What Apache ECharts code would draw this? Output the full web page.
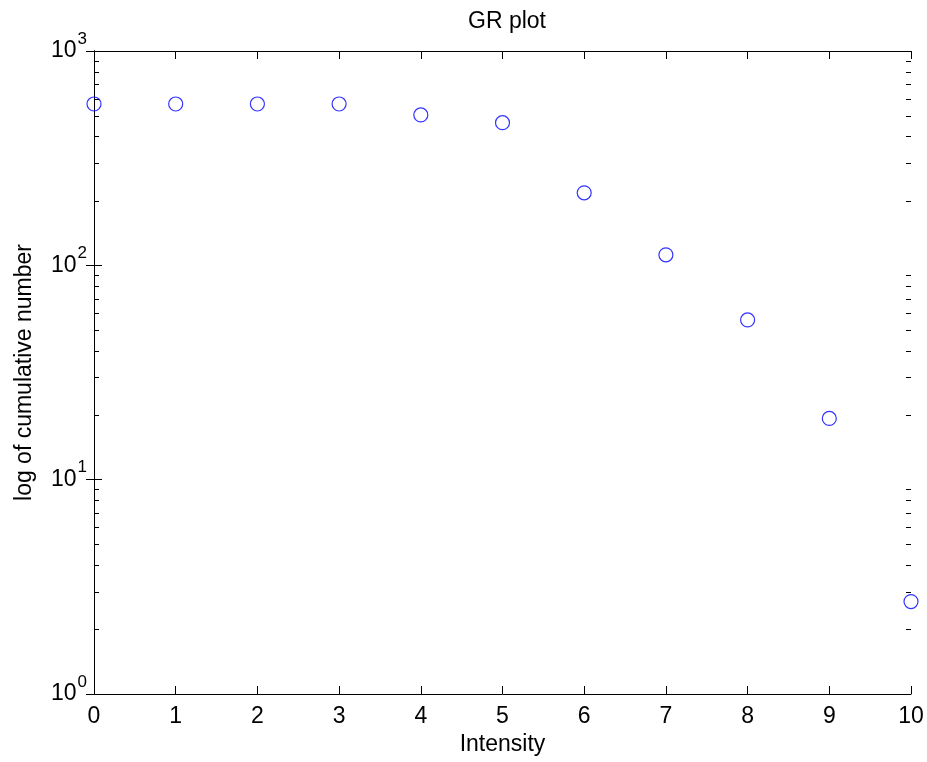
<!DOCTYPE html>
<html>
<head>
<meta charset="utf-8">
<script src="https://cdn.jsdelivr.net/npm/echarts@6/dist/echarts.min.js"></script>
<style>html,body{margin:0;padding:0;background:#fff;}#c{width:927px;height:762px;}</style>
</head>
<body>
<div id="c"></div>
<script>
const intensity = [0, 1, 2, 3, 4, 5, 6, 7, 8, 9, 10];
const cumulativeNumber = [566, 566, 566, 566, 503, 463, 218, 112, 55.6, 19.3, 2.7];
const xTickLabels = ['0','1','2','3','4','5','6','7','8','9','10'];
const yDecades = [1, 10, 100, 1000];

const FONT = "'Liberation Sans', Arial, sans-serif";
const chart = echarts.init(document.getElementById('c'), null, {renderer: 'canvas'});

const yLabel = {
  fontFamily: FONT, color: '#000', margin: 7,
  formatter: v => '{b|10}{s|' + Math.round(Math.log10(v)) + '}',
  rich: {
    b: {fontSize: 23, fontFamily: FONT, color: '#000'},
    s: {fontSize: 17, fontFamily: FONT, color: '#000', padding: [0, 0, 24, 1]}
  }
};

const baseX = {
  type: 'value', min: 0, max: 10, interval: 1,
  axisLine: {show: true, lineStyle: {color: '#000', width: 1}},
  axisTick: {show: true, inside: true, length: 8, lineStyle: {color: '#000', width: 1}},
  splitLine: {show: false}
};
const baseY = {
  type: 'log', logBase: 10, min: yDecades[0], max: yDecades[yDecades.length - 1],
  axisLine: {show: true, lineStyle: {color: '#000', width: 1}},
  axisTick: {show: true, inside: true, length: 8, lineStyle: {color: '#000', width: 1}},
  splitLine: {show: false}
};

chart.setOption({
  animation: false,
  backgroundColor: '#fff',
  title: {
    text: 'GR plot', left: 502, top: 5, textAlign: 'center',
    textStyle: {fontFamily: FONT, fontSize: 23, fontWeight: 'normal', color: '#000'}
  },
  grid: {left: 94, right: 16, top: 51, bottom: 68},
  xAxis: [
    Object.assign({}, baseX, {
      position: 'bottom',
      name: 'Intensity', nameLocation: 'middle', nameGap: 39,
      nameTextStyle: {fontFamily: FONT, fontSize: 23, color: '#000'},
      axisLabel: {fontFamily: FONT, fontSize: 23, color: '#000', margin: 11,
        formatter: v => xTickLabels[intensity.indexOf(v)] ?? String(v)}
    }),
    Object.assign({}, baseX, {position: 'top', axisLabel: {show: false}})
  ],
  yAxis: [
    Object.assign({}, baseY, {
      position: 'left',
      name: 'log of cumulative number', nameLocation: 'middle', nameGap: 58,
      nameTextStyle: {fontFamily: FONT, fontSize: 23, color: '#000'},
      axisLabel: yLabel
    }),
    Object.assign({}, baseY, {position: 'right', axisLabel: {show: false}})
  ],
  series: [{
    type: 'scatter',
    data: intensity.map((x, i) => [x, cumulativeNumber[i]]),
    symbol: 'circle', symbolSize: 14, clip: false,
    itemStyle: {color: 'rgba(0,0,0,0)', borderColor: '#0000ff', borderWidth: 1.2}
  }]
});

// minor ticks of the log axis (2..9 within each decade), placed by the axis scale
const x0 = chart.convertToPixel({xAxisIndex: 0}, 0);
const x1 = chart.convertToPixel({xAxisIndex: 0}, 10);
const minor = [];
for (let d = 0; d < yDecades.length - 1; d++) {
  for (let m = 2; m <= 9; m++) {
    const y = Math.round(chart.convertToPixel({yAxisIndex: 0}, yDecades[d] * m)) + 0.5;
    minor.push({type: 'line', shape: {x1: x0, y1: y, x2: x0 + 5, y2: y}, style: {stroke: '#000', lineWidth: 1}, silent: true});
    minor.push({type: 'line', shape: {x1: x1, y1: y, x2: x1 - 5, y2: y}, style: {stroke: '#000', lineWidth: 1}, silent: true});
  }
}
chart.setOption({graphic: minor});
</script>
</body>
</html>
